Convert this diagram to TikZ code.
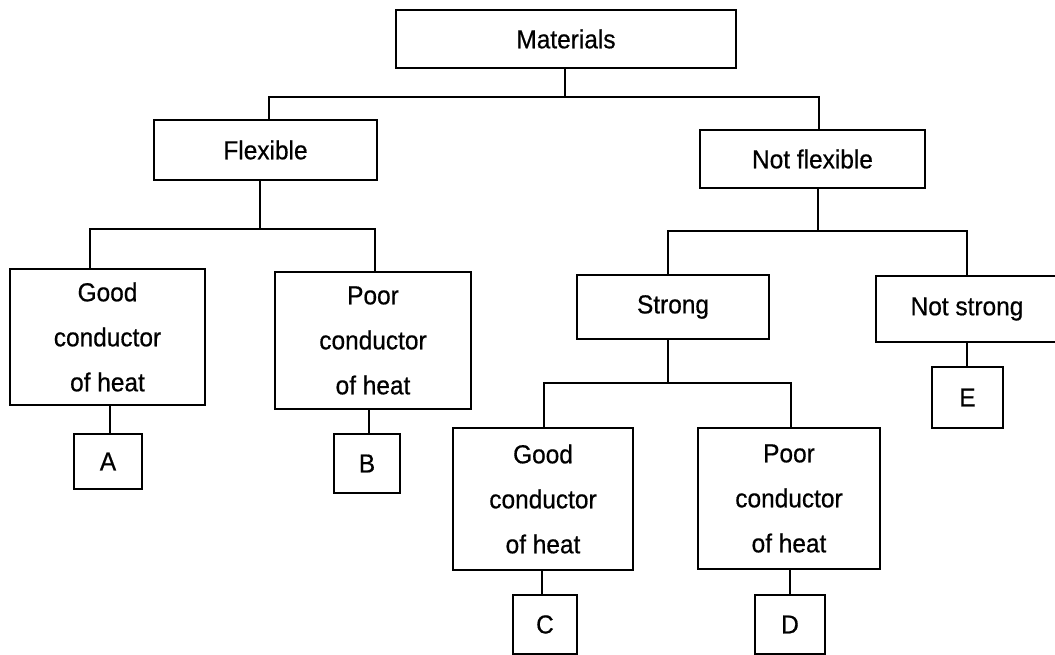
\documentclass[tikz,border=0pt]{standalone}
\usepackage{fontspec}
\setmainfont[FakeBold=0.6,FakeStretch=0.94]{Liberation Sans}
\begin{document}
\begin{tikzpicture}[x=1pt,y=-1pt,
  box/.style={draw=black, line width=2.8pt, fill=white, align=center, inner sep=0pt,
    font=\fontsize{26}{45}\selectfont},
  link/.style={draw=black, line width=2.6pt}]
\useasboundingbox (0,0) rectangle (1055,655);
\clip (0,0) rectangle (1055,655);
\fill[white] (0,0) rectangle (1055,655);
% nodes
\node[box, minimum width=340pt, minimum height=58pt] (mat) at (566,39) {Materials};
\node[box, minimum width=223pt, minimum height=60pt] (flex) at (265.5,150) {Flexible};
\node[box, minimum width=225pt, minimum height=58pt] (nflex) at (812.5,159) {Not flexible};
\node[box, minimum width=195pt, minimum height=136pt] (g1) at (107.5,337) {Good\\conductor\\of heat};
\node[box, minimum width=196pt, minimum height=137pt] (p1) at (373,340.5) {Poor\\conductor\\of heat};
\node[box, minimum width=192pt, minimum height=64pt] (strong) at (673,307) {Strong};
\node[box, minimum width=182pt, minimum height=66pt] (nstrong) at (967,309) {Not strong};
\node[box, minimum width=68pt, minimum height=55pt] (A) at (108,461.5) {A};
\node[box, minimum width=66pt, minimum height=59pt] (B) at (367,463.5) {B};
\node[box, minimum width=71pt, minimum height=61pt] (E) at (967.5,397.5) {E};
\node[box, minimum width=180pt, minimum height=142pt] (g2) at (543,499) {Good\\conductor\\of heat};
\node[box, minimum width=182pt, minimum height=141pt] (p2) at (789,498.5) {Poor\\conductor\\of heat};
\node[box, minimum width=64pt, minimum height=59pt] (C) at (545,624.5) {C};
\node[box, minimum width=70pt, minimum height=59pt] (D) at (790,624.5) {D};
% connectors
\coordinate (j1) at ([xshift=-1pt]mat.south |- 0,97);
\draw[link] ([xshift=-1pt]mat.south) -- (j1);
\draw[link] ([xshift=3.5pt]flex.north) |- (j1) -| ([xshift=6.5pt]nflex.north);
\coordinate (j2) at ([xshift=-5.5pt]flex.south |- 0,229);
\draw[link] ([xshift=-5.5pt]flex.south) -- (j2);
\draw[link] ([xshift=-17.5pt]g1.north) |- (j2) -| ([xshift=2pt]p1.north);
\coordinate (j3) at ([xshift=5.5pt]nflex.south |- 0,231);
\draw[link] ([xshift=5.5pt]nflex.south) -- (j3);
\draw[link] ([xshift=-5pt]strong.north) |- (j3) -| (nstrong.north);
\coordinate (j4) at ([xshift=-5pt]strong.south |- 0,383);
\draw[link] ([xshift=-5pt]strong.south) -- (j4);
\draw[link] ([xshift=1pt]g2.north) |- (j4) -| ([xshift=2pt]p2.north);
\draw[link] ([xshift=2.5pt]g1.south) -- ([xshift=2pt]A.north);
\draw[link] ([xshift=-4pt]p1.south) -- ([xshift=2pt]B.north);
\draw[link] (nstrong.south) -- ([xshift=-0.5pt]E.north);
\draw[link] ([xshift=-1pt]g2.south) -- ([xshift=-3pt]C.north);
\draw[link] ([xshift=1pt]p2.south) -- (D.north);
\end{tikzpicture}
\end{document}
